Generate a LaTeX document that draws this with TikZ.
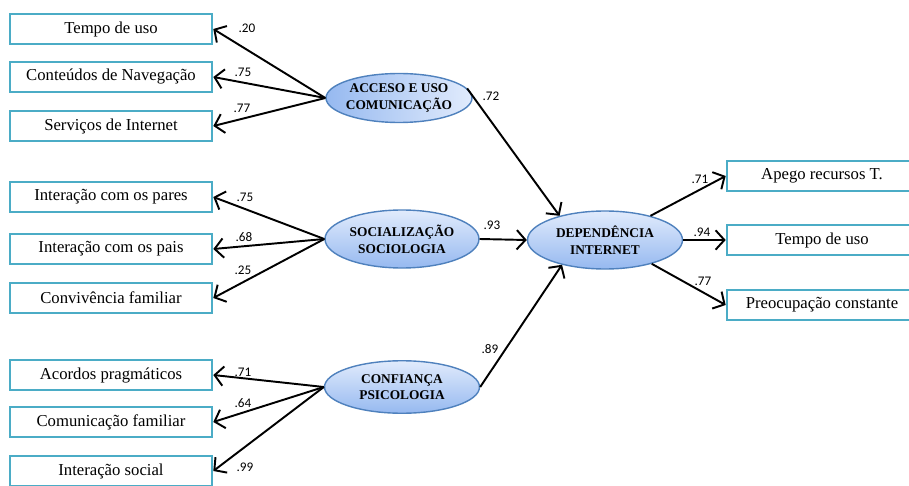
\documentclass[tikz,border=0pt]{standalone}
\usepackage{fontspec}
\setmainfont{Liberation Serif}
\newfontfamily\numfont{Carlito}
\usetikzlibrary{arrows.meta,shapes.geometric}
\definecolor{boxline}{RGB}{75,172,198}
\definecolor{ellline}{RGB}{79,129,189}
\definecolor{elldark}{RGB}{150,185,240}
\definecolor{elllight}{RGB}{225,235,252}
\tikzset{
	indic/.style={draw=boxline, line width=1.5pt, fill=white, minimum width=4.04cm, minimum height=0.6cm, inner sep=0pt, font=\fontsize{9.5}{11}\selectfont},
	indicr/.style={indic, minimum width=3.8cm},
	latent/.style={ellipse, draw=ellline, line width=0.8pt, top color=elllight, bottom color=elldark, minimum width=3.08cm, minimum height=1.05cm, inner sep=0pt},
	latext/.style={align=center, inner sep=0pt, font=\fontsize{7.6}{9.5}\selectfont\bfseries},
	path/.style={-{Straight Barb[length=5pt,width=11pt]}, line width=1.1pt, black},
	coef/.style={font=\numfont\fontsize{7.5}{9}\selectfont}
}
\begin{document}
\begin{tikzpicture}[x=0.02cm,y=-0.02cm]
	\useasboundingbox (0,0) rectangle (909,486);
	% indicadores
	\node[indic] (t1) at (111,29) {Tempo de uso};
	\node[indic] (t2) at (111,77) {Conteúdos de Navegação};
	\node[indic] (t3) at (111,126) {Serviços de Internet};
	\node[indic] (s1) at (111,197) {Interação com os pares};
	\node[indic] (s2) at (111,249) {Interação com os pais};
	\node[indic] (s3) at (111,298) {Convivência familiar};
	\node[indic] (c1) at (111,375) {Acordos pragmáticos};
	\node[indic] (c2) at (111,422) {Comunicação familiar};
	\node[indic] (c3) at (111,471) {Interação social};
	\node[indicr] (d1) at (822,176) {Apego recursos T.};
	\node[indicr] (d2) at (822,240) {Tempo de uso};
	\node[indicr] (d3) at (822,305) {Preocupação constante};
	% latentes
	\node[latent, minimum width=2.92cm, minimum height=0.98cm, left color=elldark, right color=elllight] (acc) at (399,98) {};
	\node[latent, minimum height=1.16cm] (soc) at (402,239) {};
	\node[latent, minimum width=3.1cm] (con) at (402,387) {};
	\node[latent, minimum width=3.1cm, minimum height=1.16cm] (dep) at (605,240) {};
	\node[latext] (acct) at (acc) {ACCESO E USO\\COMUNICAÇÃO};
	\node[latext] (soct) at (soc) {SOCIALIZAÇÃO\\SOCIOLOGIA};
	\node[latext] (cont) at (con) {CONFIANÇA\\PSICOLOGIA};
	\node[latext] (dept) at (dep) {DEPENDÊNCIA\\INTERNET};
	% cargas
	\draw[path] (acc.west) -- (t1.east);
	\draw[path] (acc.west) -- (t2.east);
	\draw[path] (acc.west) -- (t3.east);
	\draw[path] (soc.west) -- (s1.east);
	\draw[path] (soc.west) -- (s2.east);
	\draw[path] (soc.west) -- (s3.east);
	\draw[path] (con.west) -- (c1.east);
	\draw[path] (con.west) -- (c2.east);
	\draw[path] (con.west) -- (c3.east);
	\draw[path] (acc.8) -- (dep.152);
	\draw[path] (soc.east) -- (dep.west);
	\draw[path] (con.east) -- (dep.210);
	\draw[path] (dep.28) -- (d1.west);
	\draw[path] (dep.east) -- (d2.west);
	\draw[path] (dep.-27) -- (d3.west);
	% coeficientes
	\node[coef] (k1) at (247,28) {.20};
	\node[coef] (k2) at (243,72) {.75};
	\node[coef] (k3) at (242,108) {.77};
	\node[coef] (k4) at (245,197) {.75};
	\node[coef] (k5) at (244,237) {.68};
	\node[coef] (k6) at (243,270) {.25};
	\node[coef] (k7) at (243,372) {.71};
	\node[coef] (k8) at (243,403) {.64};
	\node[coef] (k9) at (245,467) {.99};
	\node[coef] (k10) at (491,96) {.72};
	\node[coef] (k11) at (492,225) {.93};
	\node[coef] (k12) at (490,349) {.89};
	\node[coef] (k13) at (700,179) {.71};
	\node[coef] (k14) at (702,232) {.94};
	\node[coef] (k15) at (703,281) {.77};
\end{tikzpicture}
\end{document}
